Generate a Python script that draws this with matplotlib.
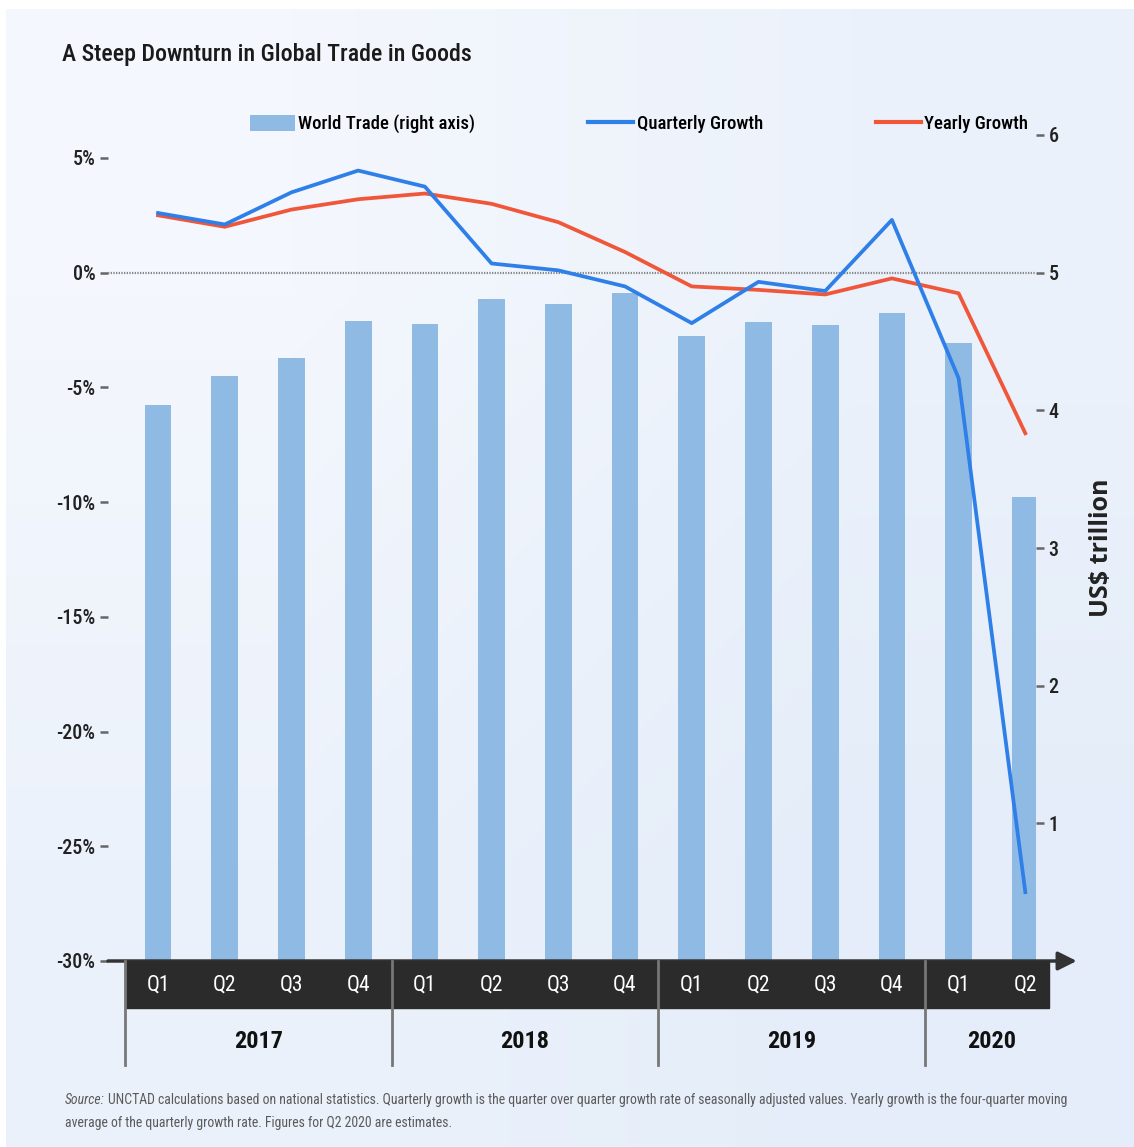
import numpy as np
import matplotlib.pyplot as plt
from matplotlib.patches import Rectangle, Patch
from matplotlib.lines import Line2D
from matplotlib.colors import LinearSegmentedColormap

quarters = ['Q1', 'Q2', 'Q3', 'Q4'] * 3 + ['Q1', 'Q2']
years = ['2017', '2018', '2019', '2020']
year_len = [4, 4, 4, 2]
world_trade = [4.04, 4.25, 4.38, 4.65, 4.63, 4.81, 4.77, 4.85, 4.54, 4.64, 4.62, 4.71, 4.49, 3.37]
quarterly_growth = [2.6, 2.1, 3.5, 4.45, 3.75, 0.4, 0.1, -0.6, -2.2, -0.4, -0.8, 2.3, -4.6, -27.0]
yearly_growth = [2.5, 2.0, 2.75, 3.2, 3.45, 3.0, 2.2, 0.9, -0.6, -0.75, -0.95, -0.25, -0.9, -7.0]
left_ticks = [5, 0, -5, -10, -15, -20, -25, -30]
right_ticks = [1, 2, 3, 4, 5, 6]

plt.rcParams['font.family'] = ['Roboto Condensed', 'Archivo Narrow', 'DejaVu Sans']

fig = plt.figure(figsize=(11.34, 11.47), dpi=100, facecolor='white')

# background panel with soft gradient
bg = fig.add_axes([6 / 1134, 0, 1 - 6 / 1134, 1 - 9 / 1147])
grad = np.array([[0.0, 0.5], [0.5, 1.0]])
cmap = LinearSegmentedColormap.from_list('bg', ['#f4f7fd', '#e4edf9'])
bg.imshow(grad, cmap=cmap, aspect='auto', interpolation='bilinear', extent=[0, 1, 0, 1])
bg.axis('off')
bg.set_zorder(-10)

ax = fig.add_axes([108 / 1134, 1 - 961 / 1147, 928 / 1134, 826 / 1147])
ax2 = ax.twinx()
x = np.arange(len(quarters))

ax2.bar(x, world_trade, width=0.40, color='#8fbae3', zorder=1)
ax.plot(x, quarterly_growth, color='#2f7fe8', lw=2.7, zorder=4)
ax.plot(x, yearly_growth, color='#f0563a', lw=2.7, zorder=3)
ax.axhline(0, color='#888888', lw=1.6, ls=(0, (0.6, 0.6)), zorder=2)

ax.set_zorder(ax2.get_zorder() + 1)
ax.patch.set_visible(False)

ax.set_xlim(-0.75, 13.16)
ax.set_ylim(-30, 6)
ax2.set_ylim(0, 6)
ax.set_yticks(left_ticks)
ax.set_yticklabels(['%d%%' % t for t in left_ticks])
ax2.set_yticks(right_ticks)
ax.set_xticks([])
for a in (ax, ax2):
    for s in a.spines.values():
        s.set_visible(False)
ax.tick_params(axis='y', length=6, width=1.8, color='#666666', labelsize=14.5, pad=3, labelcolor='#222222')
ax2.tick_params(axis='y', length=6, width=1.8, color='#666666', labelsize=14.5, pad=3, labelcolor='#222222')
for lab in ax.get_yticklabels() + ax2.get_yticklabels():
    lab.set_fontweight('medium')
ax2.set_ylabel('US$ trillion', family=['Open Sans', 'DejaVu Sans'], fontweight='bold',
               fontsize=18, color='#222222', labelpad=22)

# x axis arrow
ax.annotate('', xy=(13.77, -30), xytext=(-0.75, -30), annotation_clip=False,
            arrowprops=dict(arrowstyle='-|>', lw=2.5, color='#333333', mutation_scale=28,
                            shrinkA=0, shrinkB=0))

# category band
tr = ax.get_xaxis_transform()
ax.add_patch(Rectangle((-0.5, -47 / 826), 13.85, 47 / 826, transform=tr,
                       color='#2b2b2b', clip_on=False, zorder=5))
for i, q in enumerate(quarters):
    ax.text(i, -24 / 826, q, transform=tr, ha='center', va='center', color='white',
            fontsize=15.5, zorder=6)
start = 0
for yr, n in zip(years, year_len):
    ax.plot([start - 0.5, start - 0.5], [0, -104 / 826], transform=tr, color='#777777',
            lw=2, clip_on=False, zorder=7)
    ax.text(start + (n - 1) / 2, -80 / 826, yr, transform=tr, ha='center', va='center',
            fontsize=17.5, fontweight='bold', color='#111111')
    start += n

# title
fig.text(62 / 1134, 1 - 55 / 1147, 'A Steep Downturn in Global Trade in Goods', fontsize=17.2,
         fontweight='medium', color='#1a1a1a', va='center', ha='left')

# legend
handles = [Patch(facecolor='#8fbae3', edgecolor='none'),
           Line2D([], [], color='#2f7fe8', lw=3),
           Line2D([], [], color='#f0563a', lw=3)]
labels = ['World Trade (right axis)', 'Quarterly Growth', 'Yearly Growth']
fig.legend(handles, labels, ncol=3, loc='center', frameon=False,
           prop={'weight': 'medium', 'size': 13.5},
           bbox_to_anchor=(639 / 1134, 1 - 124 / 1147), handlelength=2.4, handleheight=0.95,
           handletextpad=0.2, columnspacing=6.0)

# footer
r = fig.canvas.get_renderer()
src = fig.text(65 / 1134, 1 - 1100 / 1147, 'Source:', fontsize=9.9, style='italic',
               color='#5a5a5a', va='center', ha='left')
bb = src.get_window_extent(renderer=r)
fig.text(bb.x1 / 1134 + 3 / 1134, 1 - 1100 / 1147,
         'UNCTAD calculations based on national statistics. Quarterly growth is the quarter over quarter '
         'growth rate of seasonally adjusted values. Yearly growth is the four-quarter moving',
         fontsize=9.9, color='#5a5a5a', va='center', ha='left')
fig.text(65 / 1134, 1 - 1123 / 1147,
         'average of the quarterly growth rate. Figures for Q2 2020 are estimates.',
         fontsize=9.9, color='#5a5a5a', va='center', ha='left')

fig.savefig('out.png', dpi=100, facecolor='white')
